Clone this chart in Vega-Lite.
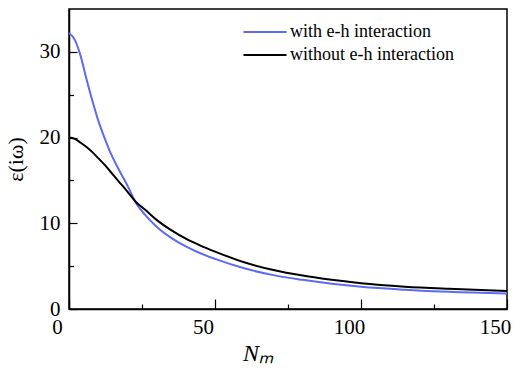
{
  "$schema": "https://vega.github.io/schema/vega-lite/v6.json",
  "width": 438,
  "height": 300,
  "autosize": {"type": "none"},
  "padding": {"left": 69, "top": 9, "right": 7, "bottom": 69},
  "background": "white",
  "config": {
    "view": {"stroke": "black", "strokeWidth": 1.5},
    "font": "Liberation Serif",
    "axis": {"grid": false, "domainColor": "black", "domainWidth": 1.5, "tickColor": "black", "tickWidth": 1.2, "labelColor": "black", "titleColor": "black", "labelFontSize": 21, "titleFontSize": 22, "titleFontWeight": "normal"}
  },
  "data": {"values": [
    {"N": 0, "eps": 32.2, "s": "with e-h interaction"},
    {"N": 2, "eps": 31.4, "s": "with e-h interaction"},
    {"N": 4, "eps": 29.5, "s": "with e-h interaction"},
    {"N": 6, "eps": 26.8, "s": "with e-h interaction"},
    {"N": 8, "eps": 24.3, "s": "with e-h interaction"},
    {"N": 10, "eps": 22.0, "s": "with e-h interaction"},
    {"N": 12, "eps": 20.1, "s": "with e-h interaction"},
    {"N": 14, "eps": 18.4, "s": "with e-h interaction"},
    {"N": 17, "eps": 16.3, "s": "with e-h interaction"},
    {"N": 20, "eps": 14.4, "s": "with e-h interaction"},
    {"N": 23, "eps": 12.35, "s": "with e-h interaction"},
    {"N": 26, "eps": 11.0, "s": "with e-h interaction"},
    {"N": 30, "eps": 9.6, "s": "with e-h interaction"},
    {"N": 35, "eps": 8.3, "s": "with e-h interaction"},
    {"N": 40, "eps": 7.3, "s": "with e-h interaction"},
    {"N": 45, "eps": 6.5, "s": "with e-h interaction"},
    {"N": 50, "eps": 5.85, "s": "with e-h interaction"},
    {"N": 60, "eps": 4.75, "s": "with e-h interaction"},
    {"N": 70, "eps": 3.95, "s": "with e-h interaction"},
    {"N": 80, "eps": 3.4, "s": "with e-h interaction"},
    {"N": 90, "eps": 2.95, "s": "with e-h interaction"},
    {"N": 100, "eps": 2.6, "s": "with e-h interaction"},
    {"N": 115, "eps": 2.25, "s": "with e-h interaction"},
    {"N": 130, "eps": 2.0, "s": "with e-h interaction"},
    {"N": 150, "eps": 1.8, "s": "with e-h interaction"},
    {"N": 0, "eps": 20.0, "s": "without e-h interaction"},
    {"N": 2, "eps": 19.85, "s": "without e-h interaction"},
    {"N": 4, "eps": 19.4, "s": "without e-h interaction"},
    {"N": 6, "eps": 18.9, "s": "without e-h interaction"},
    {"N": 8, "eps": 18.3, "s": "without e-h interaction"},
    {"N": 10, "eps": 17.6, "s": "without e-h interaction"},
    {"N": 12, "eps": 16.9, "s": "without e-h interaction"},
    {"N": 14, "eps": 16.1, "s": "without e-h interaction"},
    {"N": 17, "eps": 14.9, "s": "without e-h interaction"},
    {"N": 20, "eps": 13.7, "s": "without e-h interaction"},
    {"N": 23, "eps": 12.45, "s": "without e-h interaction"},
    {"N": 26, "eps": 11.6, "s": "without e-h interaction"},
    {"N": 30, "eps": 10.4, "s": "without e-h interaction"},
    {"N": 35, "eps": 9.2, "s": "without e-h interaction"},
    {"N": 40, "eps": 8.2, "s": "without e-h interaction"},
    {"N": 45, "eps": 7.4, "s": "without e-h interaction"},
    {"N": 50, "eps": 6.7, "s": "without e-h interaction"},
    {"N": 60, "eps": 5.45, "s": "without e-h interaction"},
    {"N": 70, "eps": 4.55, "s": "without e-h interaction"},
    {"N": 80, "eps": 3.9, "s": "without e-h interaction"},
    {"N": 90, "eps": 3.4, "s": "without e-h interaction"},
    {"N": 100, "eps": 3.0, "s": "without e-h interaction"},
    {"N": 115, "eps": 2.6, "s": "without e-h interaction"},
    {"N": 130, "eps": 2.35, "s": "without e-h interaction"},
    {"N": 150, "eps": 2.1, "s": "without e-h interaction"}
  ]},
  "layer": [
    {
      "transform": [{"filter": "datum.s === 'with e-h interaction'"}],
      "mark": {"type": "line", "interpolate": "monotone", "strokeWidth": 2},
      "encoding": {
        "x": {"field": "N", "type": "quantitative", "scale": {"domain": [0, 150], "nice": false},
          "axis": {"orient": "bottom", "title": "Nₘ", "titleFontStyle": "italic", "titleFontSize": 24, "titleX": 189, "titlePadding": 4,
            "values": [0, 50, 100, 150], "tickSize": -10,
            "labelOffset": -12, "labelPadding": 17, "labelFlush": false}},
        "y": {"field": "eps", "type": "quantitative", "scale": {"domain": [0, 35], "nice": false},
          "axis": {"orient": "left", "title": "ε(iω)", "titlePadding": 12,
            "values": [0, 10, 20, 30], "tickSize": -8,
            "labelPadding": 17, "labelFlush": false}},
        "color": {"field": "s", "type": "nominal",
          "scale": {"domain": ["with e-h interaction", "without e-h interaction"], "range": ["#5b6cf0", "#000000"]},
          "legend": {"title": null, "orient": "none", "legendX": 173, "legendY": 14, "symbolType": "stroke", "symbolSize": 1850, "symbolStrokeWidth": 2, "labelFontSize": 18, "labelColor": "black", "labelLimit": 300, "clipHeight": 18, "rowPadding": 5, "labelOffset": 2}}
      }
    },
    {
      "transform": [{"filter": "datum.s === 'without e-h interaction'"}],
      "mark": {"type": "line", "interpolate": "monotone", "strokeWidth": 2},
      "encoding": {
        "x": {"field": "N", "type": "quantitative",
          "axis": {"orient": "bottom", "title": null, "values": [25, 75, 125], "tickSize": -5, "labels": false, "domain": false}},
        "y": {"field": "eps", "type": "quantitative",
          "axis": {"orient": "left", "title": null, "values": [5, 15, 25], "tickSize": -4.5, "labels": false, "domain": false}},
        "color": {"field": "s", "type": "nominal"}
      }
    }
  ],
  "resolve": {"axis": {"x": "independent", "y": "independent"}}
}
